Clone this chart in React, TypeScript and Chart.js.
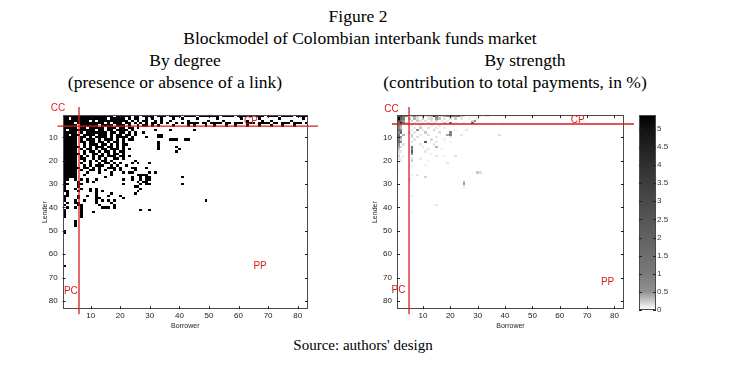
import React, { useEffect, useRef } from "react";
import { Chart, registerables } from "chart.js";

Chart.register(...registerables);

// ---------- data ----------
const bankCount = 83;
const axisTicks = [10, 20, 30, 40, 50, 60, 70, 80];

// By degree: rows 1-5 (core lenders) across all 83 borrowers; '#' = link
const degreeBand: string[] = [
  "########## #######.## ###.##.### #.###.#### .####.#### ###.####.# ####.###.# ###.####.# ###",
  "##.####### #####.#### #.#.##..#. #..#...#.. #....#.... ..#....... #.....#... ...#...... .#.",
  "#########. #.######## ##.#.#.##. .#.#..#... ..#......# ....#..... ..#....#.. #......#.. ...",
  "####.##### ####.#.### .##.#.#.#. ##.#.#..#. #.####.##. ####.##.## #.###.#### .##.###.## #.#",
  "#####.#### ##.####.## #.#..#.##. #.#....#.. ..#.#...#. .#...#..#. ..#...#... #...#...#. ...",
];

// By degree: rows 6 onwards, borrowers 1-30
const degreeCoreStart = 6;
const degreeCore: string[] = [
  "#####.##.# ####.###.# #.##.#....",
  "#.######## #.##.##.## ##.#......",
  "#####.#.## #####.##.# #.#.#..#..",
  "##.###.### #.###.#.## .##.#.....",
  "#####.##.# .####.#.## ##.#....#.",
  "#####.#.## #.#.###.#. #.##......",
  "#####.##.# #.##.#.##. #.........",
  "#####..#.# ##.##.#.#. ##........",
  "######.#.# .###.##.#. #.........",
  "#####.#.## .#.##.###. #.#.......",
  "#####..#.# #.#.##.#.# #.........",
  "######.#.. ##.#.#.##. #.........",
  "#####.#.#. #.##.###.# #.#.......",
  "#####.##.. #.#.#..##. #.........",
  "#####..#.# .#.##.#... ....#.....",
  "#####.#..# ..#.##.#.# ...#.#...#",
  "#####..#.# .###..#.#. .#........",
  "######.##. #.#..###.# ...##...#.",
  "#####.#..# #.#.#..#.# ....#.....",
  "#####...#. ..#...#... #.##.....#",
  "#####..#.. ......#... ......#.#.",
  "#####..... ....#..... ...#..#.##",
  "##..#.#.#. .#........ #..#..#.#.",
  "#....#..#. #......... .....#..#.",
  "##...##... .......... #.....#..#",
  "#....#.... .......... ....##....",
  "#...#.#..# .#........ ......#...",
  "##...#...# .#.#...... .....#....",
  ".#........ .#....#...",
  "##...#..#. .#...#...#",
  "#....#.... .##....... #",
  "#...#..#.. .#.#.#.#..",
  ".#..##.... .#....#...",
  "#....##... ..#....#..",
  ".#..#.#... ...###.#..",
  "#.....#...",
  "#.....#... #",
  "#.....#...",
  "#.....#...",
  "",
  "....#",
  "....#",
  "....#",
  "",
  "#",
  "#",
];

// By degree: isolated links further out [lender, borrower]
const degreeScatter: [number, number][] = [
  [7, 32], [7, 37], [7, 45], [9, 33], [9, 34], [10, 33], [10, 34], [11, 37], [11, 38], [11, 39],
  [11, 42], [11, 43], [12, 33], [13, 33], [14, 33], [14, 39], [15, 33], [15, 40], [16, 39],
  [21, 30], [23, 29], [25, 32], [26, 26], [26, 28], [26, 29], [27, 41], [28, 30], [29, 28],
  [30, 29], [30, 41], [31, 25], [32, 27], [33, 26], [37, 49], [41, 27], [41, 30], [34, 25], [65, 1],
];

// By strength: [lender, borrower, % of total payments]
const strengthCells: [number, number, number][] = [
  [1, 1, 2.5], [1, 2, 3.5], [1, 3, 1.5], [1, 4, 0.8], [1, 6, 0.3], [1, 7, 0.5], [1, 8, 0.25], [1, 9, 0.15],
  [1, 10, 0.4], [1, 11, 0.12], [1, 12, 0.2], [1, 13, 0.3], [1, 14, 4.5], [1, 15, 1.2], [1, 16, 0.25],
  [1, 17, 0.15], [1, 18, 0.35], [1, 19, 0.8], [1, 20, 1.5], [1, 21, 1.0], [1, 22, 0.6], [1, 23, 1.4],
  [1, 24, 0.25], [1, 25, 0.12], [1, 28, 0.08], [1, 31, 0.1], [1, 33, 0.2], [1, 34, 0.12], [1, 38, 0.06],
  [1, 42, 0.08], [1, 45, 0.05], [1, 51, 0.06],
  [2, 1, 5.2], [2, 2, 2.0], [2, 3, 1.0], [2, 5, 0.25], [2, 7, 0.35], [2, 8, 0.15], [2, 10, 0.25], [2, 12, 0.12],
  [2, 13, 0.2], [2, 15, 0.5], [2, 16, 0.3], [2, 18, 0.12], [2, 20, 0.15], [2, 22, 0.25], [2, 24, 0.12],
  [2, 27, 0.08], [2, 29, 0.06], [2, 30, 0.12],
  [3, 1, 3.0], [3, 2, 1.2], [3, 3, 0.5], [3, 6, 0.2], [3, 8, 0.25], [3, 9, 0.12], [3, 11, 0.15], [3, 13, 0.12],
  [3, 15, 0.2], [3, 17, 0.12], [3, 19, 0.08], [3, 28, 0.2], [3, 29, 0.6],
  [4, 1, 1.2], [4, 2, 4.5], [4, 3, 0.8], [4, 4, 0.25], [4, 7, 0.12], [4, 10, 0.12], [4, 12, 0.2], [4, 14, 0.15],
  [4, 18, 0.3], [4, 20, 1.5], [4, 22, 0.12], [4, 25, 0.12], [4, 28, 2.0], [4, 33, 0.08], [4, 39, 0.06],
  [5, 1, 0.8], [5, 2, 0.4], [5, 6, 0.12], [5, 9, 0.15], [5, 13, 0.08], [5, 16, 0.12],
  [6, 1, 0.6], [6, 2, 0.3], [6, 7, 0.12], [6, 9, 0.25], [6, 12, 0.15], [6, 15, 0.12], [6, 18, 0.08],
  [7, 1, 1.5], [7, 2, 0.8], [7, 6, 0.15], [7, 8, 0.5], [7, 10, 0.12], [7, 14, 0.2], [7, 22, 0.08], [7, 26, 0.12],
  [8, 1, 0.5], [8, 2, 1.8], [8, 5, 0.15], [8, 7, 0.12], [8, 11, 0.25], [8, 16, 0.15], [8, 20, 0.8],
  [9, 1, 1.2], [9, 3, 0.35], [9, 6, 0.25], [9, 9, 0.12], [9, 12, 0.15], [9, 19, 0.4], [9, 20, 0.9], [9, 24, 0.12], [9, 38, 0.15],
  [10, 1, 2.0], [10, 2, 0.6], [10, 6, 0.2], [10, 8, 0.15], [10, 15, 0.12], [10, 20, 0.12],
  [11, 1, 1.0], [11, 2, 0.25], [11, 7, 0.12], [11, 13, 0.15], [11, 18, 0.08],
  [12, 1, 1.5], [12, 2, 0.7], [12, 6, 0.15], [12, 11, 2.5], [12, 15, 0.12], [12, 20, 0.08],
  [13, 1, 0.5], [13, 3, 0.15], [13, 9, 0.12], [13, 14, 0.15],
  [14, 1, 0.4], [14, 2, 0.2], [14, 6, 1.5], [14, 10, 0.12], [14, 15, 0.35],
  [15, 1, 0.25], [15, 6, 0.9], [15, 12, 0.12], [15, 17, 0.08],
  [16, 1, 0.15], [16, 2, 0.12], [16, 6, 2.2], [16, 11, 0.12],
  [17, 1, 0.12], [17, 6, 0.5], [17, 13, 0.08],
  [18, 1, 0.2], [18, 3, 0.08], [18, 15, 0.12], [18, 18, 0.08], [18, 22, 0.15],
  [19, 1, 0.12], [19, 2, 0.08], [19, 6, 0.15], [19, 9, 0.08],
  [20, 2, 0.12], [20, 6, 0.25], [20, 12, 0.08],
  [21, 1, 0.08], [21, 19, 0.12], [22, 6, 0.08], [22, 11, 0.06], [24, 1, 0.06],
  [25, 30, 0.25], [25, 31, 0.15], [26, 6, 0.08], [26, 8, 0.12], [27, 11, 0.2], [28, 5, 0.12],
  [29, 25, 0.35], [30, 25, 0.45], [31, 25, 0.12], [32, 1, 0.06], [35, 6, 0.12], [39, 15, 0.12],
  [42, 6, 0.06], [45, 1, 0.05],
];

// Block boundaries (bank index) and block labels [text, borrower, lender]
const degreeCoreCols = 6.05;
const degreeCoreRows = 5.2;
const strengthCoreCols = 4.9;
const strengthCoreRows = 4.3;
const degreeBlockLabels: [string, number, number][] = [
  ["CC", -1.05, -2.5], ["CP", 64.2, 3.2], ["PC", 3.3, 75.7], ["PP", 67.3, 65.2],
];
const strengthBlockLabels: [string, number, number][] = [
  ["CC", -1.5, -1.9], ["CP", 66.6, 2.6], ["PC", 1.05, 75.5], ["PP", 77.5, 72.1],
];

// colour scale
const colorbarMax = 5.38;
const colorbarTicks = [0, 0.5, 1, 1.5, 2, 2.5, 3, 3.5, 4, 4.5, 5];
const grayStops: [number, number][] = [
  [0, 255], [0.08, 240], [0.2, 212], [0.35, 178], [0.5, 145], [1, 122],
  [2, 98], [3, 74], [4, 48], [5, 18], [5.38, 0],
];

// ---------- helpers ----------
function parseRow(s: string): number[] {
  const clean = s.replace(/\s+/g, "");
  const cols: number[] = [];
  for (let i = 0; i < clean.length && i < bankCount; i++) if (clean[i] === "#") cols.push(i + 1);
  return cols;
}

function degreePoints() {
  const pts: { x: number; y: number; v: number }[] = [];
  degreeBand.forEach((s, i) => parseRow(s).forEach((c) => pts.push({ x: c, y: i + 1, v: 1 })));
  degreeCore.forEach((s, i) => parseRow(s).forEach((c) => pts.push({ x: c, y: i + degreeCoreStart, v: 1 })));
  degreeScatter.forEach(([r, c]) => pts.push({ x: c, y: r, v: 1 }));
  return pts;
}

function strengthPoints() {
  return strengthCells.map(([r, c, v]) => ({ x: c, y: r, v }));
}

function grayLevel(v: number): number {
  if (v <= grayStops[0][0]) return grayStops[0][1];
  for (let i = 1; i < grayStops.length; i++) {
    const [v1, g1] = grayStops[i];
    const [v0, g0] = grayStops[i - 1];
    if (v <= v1) return g0 + ((v - v0) / (v1 - v0)) * (g1 - g0);
  }
  return grayStops[grayStops.length - 1][1];
}
const rgb = (g: number) => {
  const n = Math.round(g);
  return `rgb(${n},${n},${n})`;
};

const tickFont = { family: "'Liberation Sans', Arial, sans-serif", size: 8 };
const titleFont = { family: "'Liberation Sans', Arial, sans-serif", size: 7 };
const redColor = "#d81e1e";
const frameColor = "#4a4a4a";

function drawFrame(chart: any, xTicks: number[] | null, yTicks: number[]) {
  const { ctx, chartArea: a, scales } = chart;
  ctx.save();
  ctx.strokeStyle = frameColor;
  ctx.lineWidth = 1;
  ctx.strokeRect(Math.round(a.left) + 0.5, Math.round(a.top) + 0.5, Math.round(a.right - a.left) - 1, Math.round(a.bottom - a.top) - 1);
  ctx.strokeStyle = "#222";
  ctx.beginPath();
  const tl = 3;
  if (xTicks) {
    for (const t of xTicks) {
      const x = Math.round(scales.x.getPixelForValue(t)) + 0.5;
      ctx.moveTo(x, a.bottom);
      ctx.lineTo(x, a.bottom - tl);
      ctx.moveTo(x, a.top);
      ctx.lineTo(x, a.top + tl);
    }
  }
  for (const t of yTicks) {
    const y = Math.round(scales.y.getPixelForValue(t)) + 0.5;
    ctx.moveTo(a.left, y);
    ctx.lineTo(a.left + tl, y);
    ctx.moveTo(a.right, y);
    ctx.lineTo(a.right - tl, y);
  }
  ctx.stroke();
  ctx.restore();
}

function matrixPlugin(colorOf: (v: number) => string, coreCols: number, coreRows: number, labels: [string, number, number][]) {
  return {
    id: "matrixCells",
    beforeDatasetsDraw(chart: any) {
      const { ctx, chartArea: a } = chart;
      const xs = chart.scales.x;
      const ys = chart.scales.y;
      ctx.save();
      ctx.beginPath();
      ctx.rect(a.left, a.top, a.right - a.left, a.bottom - a.top);
      ctx.clip();
      for (const p of chart.data.datasets[0].data as any[]) {
        const x0 = Math.round(xs.getPixelForValue(p.x - 0.5));
        const x1 = Math.round(xs.getPixelForValue(p.x + 0.5));
        const y0 = Math.round(ys.getPixelForValue(p.y - 0.5));
        const y1 = Math.round(ys.getPixelForValue(p.y + 0.5));
        ctx.fillStyle = colorOf(p.v);
        ctx.fillRect(Math.min(x0, x1), Math.min(y0, y1), Math.abs(x1 - x0), Math.abs(y1 - y0));
      }
      ctx.restore();
    },
    afterDraw(chart: any) {
      drawFrame(chart, axisTicks, axisTicks);
      const { ctx, chartArea: a } = chart;
      const xs = chart.scales.x;
      const ys = chart.scales.y;
      ctx.save();
      ctx.strokeStyle = redColor;
      ctx.lineWidth = 1.3;
      const vx = xs.getPixelForValue(coreCols);
      const hy = ys.getPixelForValue(coreRows);
      ctx.beginPath();
      ctx.moveTo(a.left - 5, hy);
      ctx.lineTo(a.right + 10, hy);
      ctx.moveTo(vx, a.top - 8);
      ctx.lineTo(vx, a.bottom + 5);
      ctx.stroke();
      ctx.fillStyle = redColor;
      ctx.font = "10px 'Liberation Sans', Arial, sans-serif";
      ctx.textAlign = "center";
      ctx.textBaseline = "middle";
      for (const [t, bx, ly] of labels) {
        ctx.fillText(t, xs.getPixelForValue(bx), ys.getPixelForValue(ly));
      }
      ctx.restore();
    },
  };
}

function matrixConfig(kind: "degree" | "strength"): any {
  const isDegree = kind === "degree";
  const data = isDegree ? degreePoints() : strengthPoints();
  const colorOf = isDegree ? () => "#000" : (v: number) => rgb(grayLevel(v));
  const plugin = isDegree
    ? matrixPlugin(colorOf, degreeCoreCols, degreeCoreRows, degreeBlockLabels)
    : matrixPlugin(colorOf, strengthCoreCols, strengthCoreRows, strengthBlockLabels);
  const padLeft = isDegree ? 40.8 : 30.8;
  const padRight = isDegree ? 32 : 16;
  const yWidth = isDegree ? 21.8 : 26.2;
  return {
    type: "scatter",
    data: { datasets: [{ data, pointRadius: 0, pointHoverRadius: 0, showLine: false }] },
    options: {
      responsive: false,
      animation: false,
      events: [],
      layout: { padding: { left: padLeft, right: padRight, top: 20.1, bottom: 9.8 } },
      plugins: { legend: { display: false }, tooltip: { enabled: false } },
      scales: {
        x: {
          type: "linear",
          min: 0.5,
          max: bankCount + 0.5,
          afterBuildTicks: (s: any) => {
            s.ticks = axisTicks.map((v) => ({ value: v }));
          },
          ticks: { font: tickFont, color: "#222", padding: 2, maxRotation: 0, autoSkip: false },
          grid: { display: false, drawTicks: false },
          border: { display: false },
          title: { display: true, text: "Borrower", font: titleFont, color: "#222", padding: 0 },
          afterFit: (s: any) => {
            s.height = 21;
          },
        },
        y: {
          type: "linear",
          reverse: true,
          min: 0.5,
          max: bankCount + 0.5,
          afterBuildTicks: (s: any) => {
            s.ticks = axisTicks.map((v) => ({ value: v }));
          },
          ticks: { font: tickFont, color: "#222", padding: 5, autoSkip: false },
          grid: { display: false, drawTicks: false },
          border: { display: false },
          title: { display: true, text: "Lender", font: titleFont, color: "#222", padding: 0 },
          afterFit: (s: any) => {
            s.width = yWidth;
          },
        },
      },
    },
    plugins: [plugin],
  };
}

function colorbarConfig(): any {
  return {
    type: "bar",
    data: {
      labels: ["%"],
      datasets: [
        {
          data: [[0, colorbarMax]],
          borderWidth: 0,
          barPercentage: 1,
          categoryPercentage: 1,
          backgroundColor: (c: any) => {
            const ch = c.chart;
            const ys = ch.scales && ch.scales.y;
            if (!ys || !ch.chartArea) return "#888";
            const g = ch.ctx.createLinearGradient(0, ys.getPixelForValue(0), 0, ys.getPixelForValue(colorbarMax));
            for (const [v, gr] of grayStops) g.addColorStop(Math.min(1, v / colorbarMax), rgb(gr));
            return g;
          },
        },
      ],
    },
    options: {
      responsive: false,
      animation: false,
      events: [],
      layout: { padding: { left: 9, right: 0, top: 20, bottom: 30 } },
      plugins: { legend: { display: false }, tooltip: { enabled: false } },
      scales: {
        x: { display: false },
        y: {
          position: "right",
          min: 0,
          max: colorbarMax,
          afterBuildTicks: (s: any) => {
            s.ticks = colorbarTicks.map((v) => ({ value: v }));
          },
          ticks: { font: tickFont, color: "#333", padding: 1, autoSkip: false, callback: (v: any) => String(v) },
          grid: { display: false, drawTicks: false },
          border: { display: false },
          afterFit: (s: any) => {
            s.width = 34;
          },
        },
      },
    },
    plugins: [
      {
        id: "colorbarFrame",
        afterDraw(chart: any) {
          drawFrame(chart, null, colorbarTicks);
        },
      },
    ],
  };
}

// ---------- component ----------
const serif = "'Liberation Serif', 'Times New Roman', serif";

function Label(props: { text: string; cx: number; top: number; size: number }) {
  return (
    <div
      style={{
        position: "absolute",
        left: props.cx,
        top: props.top,
        transform: "translateX(-50%)",
        whiteSpace: "nowrap",
        fontFamily: serif,
        fontSize: props.size,
        lineHeight: 1,
        color: "#000",
      }}
    >
      {props.text}
    </div>
  );
}

export default function App() {
  const leftRef = useRef<HTMLCanvasElement>(null);
  const rightRef = useRef<HTMLCanvasElement>(null);
  const barRef = useRef<HTMLCanvasElement>(null);

  useEffect(() => {
    const charts = [
      new Chart(leftRef.current as HTMLCanvasElement, matrixConfig("degree")),
      new Chart(rightRef.current as HTMLCanvasElement, matrixConfig("strength")),
      new Chart(barRef.current as HTMLCanvasElement, colorbarConfig()),
    ];
    return () => charts.forEach((c) => c.destroy());
  }, []);

  return (
    <div style={{ position: "absolute", left: 0, top: 0, width: 745, height: 382, background: "#fff", overflow: "hidden" }}>
      <Label text="Figure 2" cx={358} top={8} size={17.5} />
      <Label text="Blockmodel of Colombian interbank funds market" cx={360} top={30.3} size={17.5} />
      <Label text="By degree" cx={185} top={52} size={17.5} />
      <Label text="(presence or absence of a link)" cx={175} top={74.3} size={17.5} />
      <Label text="By strength" cx={525} top={52} size={17.5} />
      <Label text="(contribution to total payments, in %)" cx={515} top={74.3} size={17.5} />
      <Label text="Source: authors' design" cx={363} top={338.4} size={15} />
      <canvas ref={leftRef} width={340} height={245} style={{ position: "absolute", left: 0, top: 95, width: 340, height: 245 }} />
      <canvas ref={rightRef} width={300} height={245} style={{ position: "absolute", left: 340, top: 95, width: 300, height: 245 }} />
      <canvas ref={barRef} width={60} height={245} style={{ position: "absolute", left: 630, top: 95, width: 60, height: 245 }} />
    </div>
  );
}
